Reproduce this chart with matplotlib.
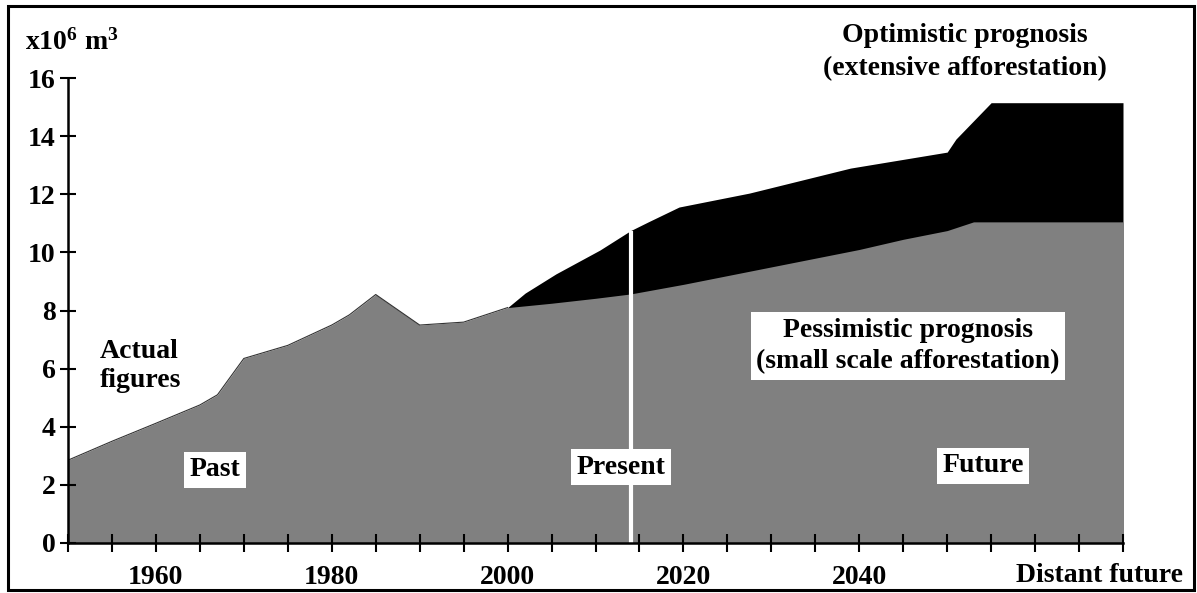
import matplotlib.pyplot as plt

# actual figures + pessimistic prognosis (grey area)
pess_years = [1950, 1955, 1960, 1965, 1967, 1970, 1975, 1980, 1982, 1985,
              1990, 1995, 2000, 2005, 2010, 2014, 2020, 2025, 2030, 2035,
              2040, 2045, 2050, 2053, 2070]
pess_vals = [2.85, 3.5, 4.12, 4.75, 5.1, 6.35, 6.8, 7.5, 7.85, 8.55,
             7.5, 7.6, 8.1, 8.25, 8.42, 8.57, 8.9, 9.2, 9.5, 9.8,
             10.1, 10.45, 10.75, 11.05, 11.05]

# optimistic prognosis (black area on top)
opt_years = [2000, 2002, 2005.5, 2010.5, 2014, 2016, 2019.5, 2027.5, 2039,
             2050, 2051, 2055, 2070]
opt_vals = [8.1, 8.6, 9.26, 10.08, 10.75, 11.05, 11.56, 12.04, 12.9,
            13.45, 13.9, 15.15, 15.15]

present_year = 2014
x_labels = {1960: "1960", 1980: "1980", 2000: "2000", 2020: "2020", 2040: "2040"}

font = "Liberation Serif"
fs = 20
plt.rcParams["mathtext.fontset"] = "custom"
plt.rcParams["mathtext.rm"] = "Liberation Serif:bold"
plt.rcParams["mathtext.bf"] = "Liberation Serif:bold"
plt.rcParams["mathtext.it"] = "Liberation Serif:bold"

fig = plt.figure(figsize=(11.97, 5.93), dpi=100)
ax = fig.add_axes([68 / 1197, 50 / 593, 1055 / 1197, 465 / 593])

ax.fill_between(opt_years, 0, opt_vals, color="black", lw=0)
ax.fill_between(pess_years, 0, pess_vals, color="#808080", lw=0)
ax.plot(pess_years[:13], pess_vals[:13], color="#333333", lw=0.8)
ax.vlines(present_year, 0, opt_vals[4], color="white", lw=3)

ax.set_xlim(1950, 2070)
ax.set_ylim(0, 16)
ax.spines["top"].set_visible(False)
ax.spines["right"].set_visible(False)
ax.spines["left"].set_linewidth(1.8)
ax.spines["bottom"].set_linewidth(1.8)

xt = list(range(1950, 2071, 5))
ax.set_xticks(xt)
ax.set_xticklabels([x_labels.get(y, "") for y in xt])
ax.set_yticks(range(0, 17, 2))
ax.tick_params(axis="x", direction="inout", length=13, width=1.5, pad=9)
ax.tick_params(axis="y", direction="inout", length=12, width=1.5, pad=3)
for lab in ax.get_xticklabels() + ax.get_yticklabels():
    lab.set_fontfamily(font)
    lab.set_fontweight("bold")
    lab.set_fontsize(fs)

tkw = dict(family=font, weight="bold", fontsize=fs, transform=fig.transFigure)
box = dict(boxstyle="square,pad=0.2", fc="white", ec="none")

fig.text(1183 / 1197, 1 - 575 / 593, "Distant future", ha="right", va="center", **tkw)
fig.text(25 / 1197, 1 - 42 / 593, r"x10$^{6}$ m$^{3}$", ha="left", va="center", **tkw)
fig.text(965 / 1197, 1 - 52 / 593, "Optimistic prognosis\n(extensive afforestation)",
         ha="center", va="center", linespacing=1.4, **tkw)
fig.text(908 / 1197, 1 - 346 / 593, "Pessimistic prognosis\n(small scale afforestation)",
         ha="center", va="center", linespacing=1.35, bbox=box, **tkw)
fig.text(100 / 1197, 1 - 366 / 593, "Actual\nfigures", ha="left", va="center",
         linespacing=1.2, **tkw)
fig.text(215 / 1197, 1 - 470 / 593, "Past", ha="center", va="center", bbox=box, **tkw)
fig.text(621 / 1197, 1 - 467 / 593, "Present", ha="center", va="center", bbox=box, **tkw)
fig.text(983 / 1197, 1 - 466 / 593, "Future", ha="center", va="center", bbox=box, **tkw)

border = plt.Rectangle((8 / 1197, 3 / 593), 1186 / 1197, 584 / 593, transform=fig.transFigure,
                       fill=False, ec="black", lw=2.2)
fig.patches.append(border)

fig.savefig("out.png", dpi=100)
